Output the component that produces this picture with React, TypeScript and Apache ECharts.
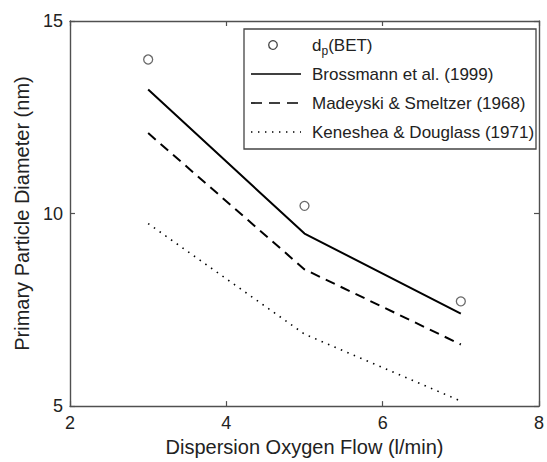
import React, { useEffect, useRef } from "react";
import * as echarts from "echarts";

const flows = [3, 5, 7];
const betDiameter = [14.0, 10.2, 7.72];
const brossmann = [13.22, 9.48, 7.4];
const madeyski = [12.09, 8.55, 6.6];
const keneshea = [9.74, 6.87, 5.13];
const legendLabels = [
  "Brossmann et al. (1999)",
  "Madeyski & Smeltzer (1968)",
  "Keneshea & Douglass (1971)",
];

const FONT = "Liberation Sans, Arial, Helvetica, sans-serif";
const AXIS = "#505050";
const TEXT = "#222";

const pairs = (ys: number[]) => flows.map((x, i) => [x, ys[i]]);

export default function App() {
  const ref = useRef<HTMLDivElement>(null);
  useEffect(() => {
    if (!ref.current) return;
    const chart = echarts.init(ref.current, null, { renderer: "svg" });
    const axisCommon = {
      type: "value" as const,
      axisLine: { show: true, lineStyle: { color: AXIS, width: 1.4 } },
      axisTick: { show: true, inside: true, length: 5, lineStyle: { color: AXIS, width: 1.2 } },
      splitLine: { show: false },
    };
    const rowY = [45, 74, 103, 132];
    const lx0 = 251, lx1 = 301, tx = 312;
    const lineStyles: any[] = [
      { stroke: "#000", lineWidth: 1.6 },
      { stroke: "#000", lineWidth: 1.6, lineDash: [11, 7] },
      { stroke: "#000", lineWidth: 1.4, lineDash: [1.4, 5.6] },
    ];
    const graphic: any[] = [
      {
        type: "rect",
        shape: { x: 244, y: 29, width: 292, height: 120 },
        style: { fill: "#fff", stroke: "#444", lineWidth: 1.3 },
        z: 100,
      },
      {
        type: "circle",
        shape: { cx: 273, cy: rowY[0], r: 4.3 },
        style: { fill: "none", stroke: "#444", lineWidth: 1.3 },
        z: 101,
      },
      {
        type: "text",
        x: tx,
        y: rowY[0],
        style: {
          text: "d{sub|p}(BET)",
          fontSize: 17,
          fontFamily: FONT,
          fill: TEXT,
          verticalAlign: "middle",
          lineHeight: 24,
          rich: {
            sub: { fontSize: 12, lineHeight: 12, verticalAlign: "bottom", fontFamily: FONT, fill: TEXT },
          },
        },
        z: 101,
      },
    ];
    legendLabels.forEach((lab, i) => {
      const y = rowY[i + 1];
      graphic.push({
        type: "line",
        shape: { x1: lx0, y1: y, x2: lx1, y2: y },
        style: lineStyles[i],
        z: 101,
      });
      graphic.push({
        type: "text",
        x: tx,
        y,
        style: { text: lab, fontSize: 17, fontFamily: FONT, fill: TEXT, verticalAlign: "middle" },
        z: 101,
      });
    });

    chart.setOption({
      animation: false,
      backgroundColor: "#fff",
      textStyle: { fontFamily: FONT },
      grid: { left: 70, top: 21, width: 473, height: 391, containLabel: false },
      xAxis: [
        {
          ...axisCommon,
          position: "bottom",
          min: 2,
          max: 8,
          interval: 2,
          axisLabel: { show: true, fontSize: 18, color: TEXT, margin: 8, fontFamily: FONT },
          name: "Dispersion Oxygen Flow (l/min)",
          nameLocation: "middle",
          nameGap: 30,
          nameTextStyle: { fontSize: 20, color: TEXT, fontFamily: FONT },
        },
        {
          ...axisCommon,
          position: "top",
          min: 2,
          max: 8,
          interval: 2,
          axisLabel: { show: false },
        },
      ],
      yAxis: [
        {
          ...axisCommon,
          position: "left",
          min: 5,
          max: 15,
          interval: 5,
          axisLabel: { show: true, fontSize: 18, color: TEXT, margin: 7, fontFamily: FONT },
          name: "Primary Particle Diameter (nm)",
          nameLocation: "middle",
          nameGap: 36,
          nameTextStyle: { fontSize: 20, color: TEXT, fontFamily: FONT },
        },
        {
          ...axisCommon,
          position: "right",
          min: 5,
          max: 15,
          interval: 5,
          axisLabel: { show: false },
        },
      ],
      series: [
        {
          name: "dp(BET)",
          type: "scatter",
          data: pairs(betDiameter),
          symbol: "circle",
          symbolSize: 9,
          itemStyle: { color: "transparent", borderColor: "#444", borderWidth: 1.3 },
        },
        {
          name: legendLabels[0],
          type: "line",
          data: pairs(brossmann),
          showSymbol: false,
          lineStyle: { color: "#000", width: 2 },
        },
        {
          name: legendLabels[1],
          type: "line",
          data: pairs(madeyski),
          showSymbol: false,
          lineStyle: { color: "#000", width: 2, type: [10, 6.5] },
        },
        {
          name: legendLabels[2],
          type: "line",
          data: pairs(keneshea),
          showSymbol: false,
          lineStyle: { color: "#000", width: 1.6, type: [1.5, 5.5] },
        },
      ],
      graphic,
    });
    return () => chart.dispose();
  }, []);
  return (
    <div
      ref={ref}
      style={{ position: "fixed", left: 0, top: 0, width: 547, height: 462, background: "#fff" }}
    />
  );
}
